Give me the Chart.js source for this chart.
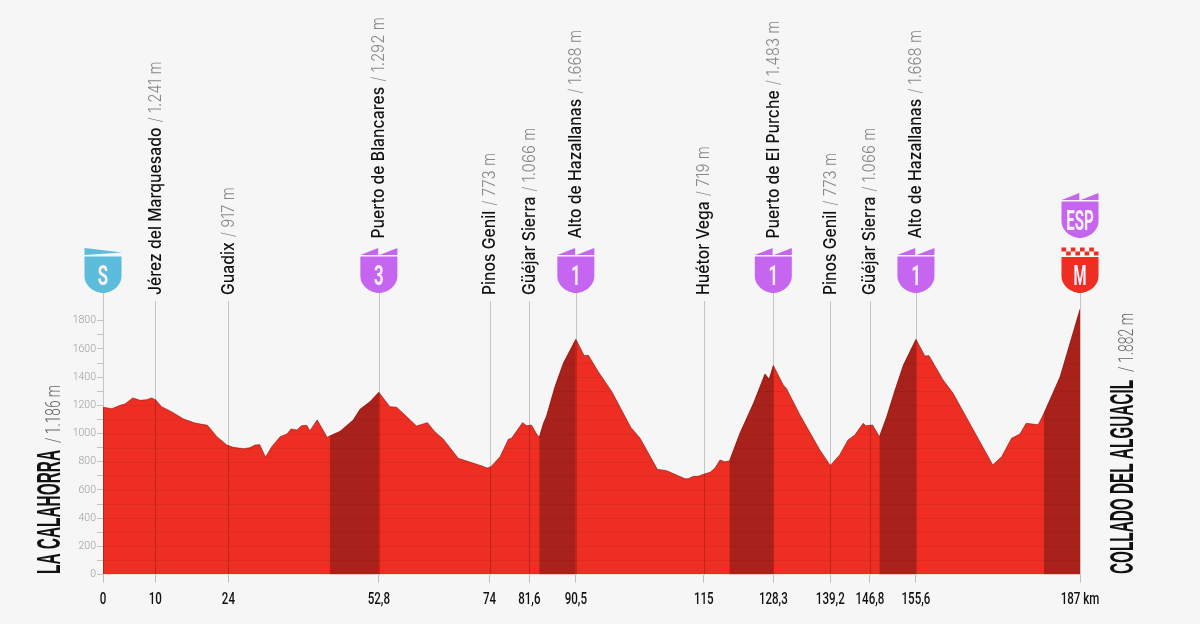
<!DOCTYPE html>
<html><head><meta charset="utf-8">
<script src="https://cdn.jsdelivr.net/npm/chart.js@4"></script>
<style>html,body{margin:0;padding:0;background:#f6f6f6}canvas{display:block}</style>
</head><body><canvas id="c" width="1200" height="624" style="width:1200px;height:624px"></canvas>
<script>
const profileKm = [0,1.7,3.3,4.2,5.7,7.1,8.4,9.3,10.1,11.2,13.1,15.4,17.6,20,21.8,23.7,24.9,26.9,28.1,29.1,30,31.1,32.3,33.9,35.2,36,37.1,38,39,39.6,41,42.9,43.4,45.4,47.9,49.2,51.1,52.8,54.9,56.2,58.8,60,62.1,63.5,65.1,68,70.6,72.5,73.5,74,74.4,76,77.6,78.2,80.3,81.1,82,83,83.5,84.3,84.9,86.5,88.1,90.5,92.1,92.9,94.8,97.4,101,102.8,106.1,107.9,111.4,112,113,113.9,114.8,116.2,117.1,118.1,119,119.9,121.9,124.5,126.7,127.5,128.3,130.2,130.8,133.4,137.2,139.2,141,142.6,143.9,145.5,146,147.3,148.6,150,151.6,153.2,155.6,157.3,158.1,160.8,162.7,170.3,172,173.9,175.5,176.7,179,180.1,183.2,187];
const profileElev = [1186,1176,1200,1209,1252,1235,1240,1252,1238,1190,1155,1103,1074,1058,977,918,902,892,899,918,921,831,906,977,996,1032,1025,1055,1058,1020,1096,973,982,1016,1096,1172,1226,1292,1190,1186,1096,1053,1077,1013,961,824,793,770,755,760,770,835,959,966,1077,1055,1060,996,973,1072,1124,1332,1498,1668,1552,1555,1438,1296,1044,966,746,736,679,679,696,696,709,725,753,812,800,805,1001,1214,1422,1384,1483,1344,1320,1131,883,773,848,954,989,1072,1055,1060,977,1119,1309,1486,1668,1550,1552,1379,1285,777,835,966,996,1072,1062,1143,1403,1882];
const climbStart = [43.4,83.5,119.9,148.6,180.1];
const climbEnd = [52.8,90.5,128.3,155.6,187];
const wayKm = [10,24,52.8,74,81.6,90.5,115,128.3,139.2,146.8,155.6];
const wayNames = ["Jérez del Marquesado","Guadix","Puerto de Blancares","Pinos Genil","Güéjar Sierra","Alto de Hazallanas","Huétor Vega","Puerto de El Purche","Pinos Genil","Güéjar Sierra","Alto de Hazallanas"];
const wayAlts = ["/ 1.241 m","/ 917 m","/ 1.292 m","/ 773 m","/ 1.066 m","/ 1.668 m","/ 719 m","/ 1.483 m","/ 773 m","/ 1.066 m","/ 1.668 m"];
const wayShields = ["","","3","","","1","","1","","","1"];
const xTickKm = [0,10,24,52.8,74,81.6,90.5,115,128.3,139.2,146.8,155.6,187];
const xTickLabels = ["0","10","24","52,8","74","81,6","90,5","115","128,3","139,2","146,8","155,6","187 km"];
const startName = "LA CALAHORRA", startAlt = "/ 1.186 m";
const finishName = "COLLADO DEL ALGUACIL", finishAlt = "/ 1.882 m";

const RED='#ee2e22', DARK='#a8211a', PURPLE='#c565f0', BLUE='#5bbcdc', SANS='"Liberation Sans"';
const inClimb = km => climbStart.some((s,i)=>km>=s-1e-6 && km<climbEnd[i]-1e-6);

function text(ctx,t,x,y,font,color,opt={}){
  ctx.save();ctx.translate(x,y);
  if(opt.rot)ctx.rotate(opt.rot);
  ctx.font=font;
  let sx=opt.sx||1;
  if(opt.fit)sx=opt.fit/ctx.measureText(t).width;
  ctx.scale(sx,opt.sy||1);
  ctx.fillStyle=color;ctx.textAlign=opt.align||'left';ctx.textBaseline=opt.base||'alphabetic';
  ctx.fillText(t,0,0);ctx.restore();
}
function shieldBody(ctx,cx,top,bottom,color){
  const h=18.5;
  ctx.beginPath();ctx.moveTo(cx-h,top);ctx.lineTo(cx+h,top);ctx.lineTo(cx+h,bottom-17);
  ctx.bezierCurveTo(cx+h,bottom-6,cx+7,bottom,cx,bottom);
  ctx.bezierCurveTo(cx-7,bottom,cx-h,bottom-6,cx-h,bottom-17);ctx.closePath();
  ctx.fillStyle=color;ctx.fill();
}
function teeth(ctx,cx,y,color){
  ctx.fillStyle=color;
  [[-18.5,-0.7],[0.6,18.5]].forEach(([a,b])=>{
    ctx.beginPath();ctx.moveTo(cx+a,y);ctx.lineTo(cx+b,y-7);ctx.lineTo(cx+b,y);ctx.closePath();ctx.fill();
  });
}
function glyph(ctx,t,cx,base,sx){
  text(ctx,t,cx,base,'bold 27px Roboto','#fbeffd',{align:'center',sx:sx||.62});
}
const decor={
  id:'decor',
  afterDatasetsDraw(chart){
    const {ctx,chartArea:a,scales:{x,y}}=chart;
    const meta=chart.getDatasetMeta(0).data;
    ctx.save();ctx.beginPath();ctx.moveTo(meta[0].x,a.bottom);
    meta.forEach(p=>ctx.lineTo(p.x,p.y));
    ctx.lineTo(meta[meta.length-1].x,a.bottom);ctx.closePath();ctx.clip();
    ctx.strokeStyle='rgba(0,0,0,.06)';ctx.lineWidth=1;
    y.ticks.forEach(t=>{const py=Math.round(y.getPixelForValue(t.value))+.5;ctx.beginPath();ctx.moveTo(a.left,py);ctx.lineTo(a.right,py);ctx.stroke();});
    ctx.restore();
    ctx.strokeStyle='rgba(0,0,0,.2)';ctx.lineWidth=1;
    const vline=(km,top)=>{const px=Math.round(x.getPixelForValue(km))+.5;ctx.beginPath();ctx.moveTo(px,top);ctx.lineTo(px,a.bottom);ctx.stroke();};
    vline(0,293);vline(187,293);
    wayKm.forEach((km,i)=>vline(km,wayShields[i]?293:301));
    const R=-Math.PI/2;
    wayKm.forEach((km,i)=>{
      const px=x.getPixelForValue(km)+5.5, start=wayShields[i]?238.5:295;
      const f='500 17.5px Inter', sn=.9;
      text(ctx,wayNames[i],px,start,f,'#111',{rot:R,sx:sn});
      ctx.font=f;const w=ctx.measureText(wayNames[i]).width*sn;
      text(ctx,wayAlts[i],px,start-w-5,'300 17.5px Inter','#888',{rot:R,sx:.86});
      if(wayShields[i]){
        const cx=x.getPixelForValue(km);
        teeth(ctx,cx,255,PURPLE);shieldBody(ctx,cx,256.5,293,PURPLE);
        glyph(ctx,wayShields[i],cx,285);
      }
    });
    const sx=x.getPixelForValue(0);
    ctx.fillStyle=BLUE;ctx.beginPath();ctx.moveTo(sx-18.5,248);ctx.lineTo(sx+19,252.5);ctx.lineTo(sx-18.5,255);ctx.closePath();ctx.fill();
    shieldBody(ctx,sx,256.5,293,BLUE);glyph(ctx,'S',sx,285);
    const fx=x.getPixelForValue(187);
    teeth(ctx,fx,200,PURPLE);shieldBody(ctx,fx,201.5,238,PURPLE);glyph(ctx,'ESP',fx,230,.56);
    ctx.fillStyle=RED;
    for(let r=0;r<2;r++)for(let c=0;c<8;c++)if((r+c)%2===0)ctx.fillRect(fx-18.5+c*4.625,247.5+r*4,4.625,4);
    shieldBody(ctx,fx,257,293,RED);glyph(ctx,'M',fx,285,.55);
    x.ticks.forEach((t,i)=>{
      text(ctx,t.label,x.getPixelForTick(i),604,'500 17px Roboto','#111',{align:'center',sx:.68});
    });
    text(ctx,startName,60,574,'bold 33px '+SANS,'#111',{rot:R,fit:124});
    text(ctx,startAlt,60,443,'300 21px Roboto','#666',{rot:R,fit:58});
    text(ctx,finishName,1133,574,'bold 33px '+SANS,'#111',{rot:R,fit:194});
    text(ctx,finishAlt,1133,372,'300 21px Roboto','#666',{rot:R,fit:59});
  }
};
const points=profileKm.map((k,i)=>({x:k,y:profileElev[i]}));
new Chart(document.getElementById('c'),{
  type:'line',
  data:{datasets:[{
    data:points,fill:'origin',backgroundColor:'rgba(0,0,0,0)',borderColor:'rgba(130,20,12,.75)',borderWidth:.8,
    pointRadius:0,tension:0,
    segment:{backgroundColor:c=>inClimb(c.p0.parsed.x)?DARK:'rgba(0,0,0,0)'}
  },{
    data:points,fill:'origin',backgroundColor:RED,borderWidth:0,pointRadius:0,tension:0
  }]},
  options:{
    responsive:false,animation:false,devicePixelRatio:1,
    layout:{padding:{left:0,right:120,top:306.6,bottom:0}},
    plugins:{legend:{display:false},tooltip:{enabled:false},title:{display:false}},
    scales:{
      x:{type:'linear',min:0,max:187,
        afterBuildTicks:s=>{s.ticks=xTickKm.map(v=>({value:v}));},
        afterTickToLabelConversion:s=>{s.ticks.forEach((t,i)=>{t.label=xTickLabels[i];});},
        afterFit:s=>{s.height=49.5;},
        ticks:{display:false,autoSkip:false},
        grid:{drawOnChartArea:false,drawTicks:true,tickLength:8,tickColor:'#bdbdbd'},
        border:{display:false}},
      y:{type:'linear',min:0,max:1900,
        afterBuildTicks:s=>{s.ticks=s.ticks.filter(t=>t.value<=1800);},
        afterFit:s=>{s.width=103;},
        ticks:{stepSize:100,autoSkip:false,padding:1,color:'#9a9a9a',font:{family:'Roboto',size:10.5,weight:'300'},
          callback:v=>v%200===0?String(v):''},
        grid:{drawOnChartArea:false,drawTicks:true,tickLength:6,tickColor:'#c4c4c4'},
        border:{display:false}}
    }
  },
  plugins:[decor]
});
</script></body></html>
